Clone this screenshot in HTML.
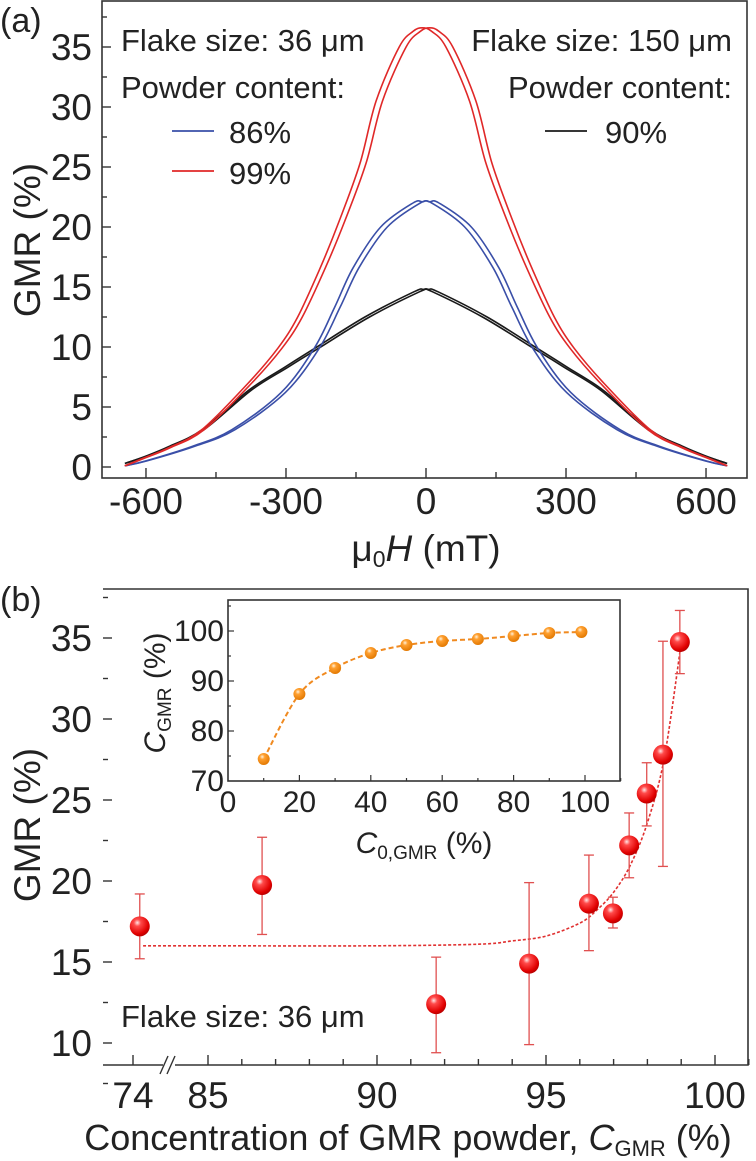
<!DOCTYPE html>
<html><head><meta charset="utf-8"><style>
html,body{margin:0;padding:0;background:#fff;}
svg{display:block;font-family:"Liberation Sans",Arial,sans-serif;}
</style></head><body>
<svg id="fig" width="756" height="1161" viewBox="0 0 756 1161" xmlns="http://www.w3.org/2000/svg">
<defs>
<radialGradient id="gRed" cx="0.38" cy="0.32" r="0.7">
<stop offset="0" stop-color="#ffe6e6"/><stop offset="0.25" stop-color="#ff4a4a"/><stop offset="0.8" stop-color="#e00000"/><stop offset="1" stop-color="#b80000"/></radialGradient>
<radialGradient id="gOr" cx="0.38" cy="0.32" r="0.7">
<stop offset="0" stop-color="#fff2dc"/><stop offset="0.3" stop-color="#ffa030"/><stop offset="1" stop-color="#e27800"/></radialGradient>
</defs>
<g id="pa"></g>
<g id="pb"></g>
<g id="pi"></g>
</svg>
<script>
// ---------- Panel (a) data ----------
const aTicksX = [-600, -300, 0, 300, 600];
const aTicksY = [0, 5, 10, 15, 20, 25, 30, 35];
const hHalf = [0, 20, 50, 100, 135, 180, 220, 270, 313, 377, 478, 550, 600, 645];
const gmrRed = [36.6, 36.3, 35.0, 30.5, 25.3, 20.5, 16.7, 12.5, 9.9, 7.0, 3.1, 1.6, 0.8, 0.1];
const hBlue = [0, 20, 90, 150, 190, 234, 306, 413, 500, 600, 645];
const gmrBlue = [22.1, 22.0, 20.0, 16.6, 13.3, 9.9, 6.2, 3.1, 1.7, 0.5, 0.1];
const hBlack = [0, 20, 126, 234, 300, 377, 478, 550, 600, 645];
const gmrBlack = [14.8, 14.6, 12.5, 9.9, 8.3, 6.4, 3.1, 1.7, 0.9, 0.3];
const hystShift = [8, 8, 6]; // mT, red, blue, black

// ---------- Panel (b) data ----------
const bTickVals = [74, 85, 90, 95, 100];
const bTickY = [10, 15, 20, 25, 30, 35];
const conc = [74.2, 86.6, 91.75, 94.5, 96.27, 96.98, 97.46, 97.98, 98.46, 98.96];
const gmrB = [17.2, 19.75, 12.4, 14.9, 18.6, 18.0, 22.2, 25.4, 27.8, 34.75];
const errLo = [15.2, 16.7, 9.4, 9.9, 15.7, 17.1, 20.2, 23.4, 20.9, 32.8];
const errHi = [19.2, 22.7, 15.3, 19.9, 21.6, 19.0, 24.2, 27.3, 34.8, 36.7];
const fitX = [74.3, 85, 90, 93, 94, 95, 96, 96.5, 97, 97.5, 98, 98.5, 99];
const fitY = [16, 16, 16, 16.1, 16.3, 16.6, 17.4, 18.2, 19.3, 21, 23.6, 27.6, 34.7];

// ---------- Inset data ----------
const inX = [10, 20, 30, 40, 50, 60, 70, 80, 90, 99];
const inY = [74.4, 87.4, 92.6, 95.6, 97.2, 98.0, 98.4, 99.0, 99.6, 99.8];
const inTicksX = [0, 20, 40, 60, 80, 100];
const inTicksY = [70, 80, 90, 100];

const NS = "http://www.w3.org/2000/svg";
function mk(parent, tag, attrs, text) {
  const e = document.createElementNS(NS, tag);
  for (const k in attrs) e.setAttribute(k, attrs[k]);
  if (text !== undefined) e.textContent = text;
  parent.appendChild(e);
  return e;
}
function smooth(P) {
  let d = 'M' + P[0][0].toFixed(1) + ',' + P[0][1].toFixed(1);
  for (let i = 0; i < P.length - 1; i++) {
    const p0 = P[i - 1] || P[i], p1 = P[i], p2 = P[i + 1], p3 = P[i + 2] || P[i + 1];
    const c1 = [p1[0] + (p2[0] - p0[0]) / 6, p1[1] + (p2[1] - p0[1]) / 6];
    const c2 = [p2[0] - (p3[0] - p1[0]) / 6, p2[1] - (p3[1] - p1[1]) / 6];
    d += 'C' + c1.map(n => n.toFixed(1)).join(',') + ' ' + c2.map(n => n.toFixed(1)).join(',') + ' ' + p2[0].toFixed(1) + ',' + p2[1].toFixed(1);
  }
  return d;
}
const AX = "#333";

// ===== Panel A =====
const pa = document.getElementById('pa');
const ax = h => 426 + h * 0.4667;
const ay = g => 467 - g * 12;
let e;
e = mk(pa, 'rect', {x: 102, y: 1, width: 645, height: 477, fill: 'none', stroke: AX, 'stroke-width': 1.6});


for (let v = -750; v <= 750; v += 150) {
  const x = ax(v); if (x < 103 || x > 746) continue;
  const major = v % 300 === 0;
  mk(pa, 'line', {x1: x, x2: x, y1: 478, y2: major ? 468 : 472, stroke: AX, 'stroke-width': 1.4});
}
aTicksX.forEach(v => {
  e = mk(pa, 'text', {x: ax(v), y: 514, 'font-size': 37, 'text-anchor': 'middle', fill: '#222'}, String(v));
  
  
});
for (let g = 0; g <= 37.5; g += 2.5) {
  const major = g % 5 === 0;
  mk(pa, 'line', {x1: 102, x2: major ? 111 : 107, y1: ay(g), y2: ay(g), stroke: AX, 'stroke-width': 1.4});
}
aTicksY.forEach(v => {
  e = mk(pa, 'text', {x: 92, y: ay(v) + 13, 'font-size': 37, 'text-anchor': 'end', fill: '#222'}, String(v));
  
  
});
e = mk(pa, 'text', {x: 0, y: 0, 'font-size': 37, 'text-anchor': 'middle', fill: '#222', transform: 'translate(40,240) rotate(-90)'}, 'GMR (%)');


e = mk(pa, 'text', {x: 426, y: 561, 'font-size': 37, 'text-anchor': 'middle', fill: '#222'});
e.innerHTML = 'μ<tspan font-size="23" dy="6">0</tspan><tspan dy="-6" font-style="italic">H</tspan> (mT)';


e = mk(pa, 'text', {x: 0, y: 32, 'font-size': 34, fill: '#222'}, '(a)');



function curve(hs, gs, shift, color, name) {
  [1, -1].forEach(sgn => {
    const pts = [];
    for (let i = hs.length - 1; i >= 0; i--) pts.push([-hs[i], gs[i]]);
    for (let i = 1; i < hs.length; i++) pts.push([hs[i], gs[i]]);
    const P = pts.map(p => [ax(p[0] + sgn * shift * (1 - Math.abs(p[0]) / 700)), ay(p[1])]);
    const el = mk(pa, 'path', {d: smooth(P), fill: 'none', stroke: color, 'stroke-width': 1.6, 'stroke-linejoin': 'round'});
    
    
  });
}
curve(hBlack, gmrBlack, hystShift[2], '#1a1a1a', 'curve-90pct-150um');
curve(hBlue, gmrBlue, hystShift[1], '#3a4fa8', 'curve-86pct');
curve(hHalf, gmrRed, hystShift[0], '#e02828', 'curve-99pct');

const leg = [
  ['Flake size: 36 μm', 121, 51, 'start'], ['Powder content:', 121, 98, 'start'],
  ['86%', 229, 143, 'start'], ['99%', 229, 184, 'start'],
  ['Flake size: 150 μm', 732, 51, 'end'], ['Powder content:', 732, 98, 'end'],
  ['90%', 605, 143, 'start']];
leg.forEach(l => {
  e = mk(pa, 'text', {x: l[1], y: l[2], 'font-size': 31, 'text-anchor': l[3], fill: '#222'}, l[0]);
  
  
});
[[172, 131, '#3a4fa8'], [172, 171, '#e02828'], [545, 131, '#1a1a1a']].forEach(s => {
  e = mk(pa, 'line', {x1: s[0], x2: s[0] + 42, y1: s[1], y2: s[1], stroke: s[2], 'stroke-width': 1.8});
  
  
});

// ===== Panel B =====
const pb = document.getElementById('pb');
const bx = v => v < 80 ? 133 + (v - 74) * 33.8 : 208 + (v - 85) * 33.8;
const by = g => 1043 - (g - 10) * 16.2;
e = mk(pb, 'path', {d: 'M103,589H748V1065H175M163,1065H103Z', fill: 'none', stroke: AX, 'stroke-width': 1.6});


mk(pb, 'line', {x1: 160, y1: 1074, x2: 168, y2: 1056, stroke: AX, 'stroke-width': 1.4});
mk(pb, 'line', {x1: 167, y1: 1074, x2: 175, y2: 1056, stroke: AX, 'stroke-width': 1.4});
for (let v = 85; v <= 101; v++) {
  const major = v % 5 === 0;
  mk(pb, 'line', {x1: bx(v), x2: bx(v), y1: 1065, y2: major ? 1055 : 1059, stroke: AX, 'stroke-width': 1.4});
}
mk(pb, 'line', {x1: bx(74), x2: bx(74), y1: 1065, y2: 1055, stroke: AX, 'stroke-width': 1.4});
bTickVals.forEach(v => {
  e = mk(pb, 'text', {x: bx(v), y: 1108, 'font-size': 37, 'text-anchor': 'middle', fill: '#222'}, String(v));
  
  
});
for (let g = 7.5; g <= 37.5; g += 2.5) {
  const major = g % 5 === 0;
  mk(pb, 'line', {x1: 103, x2: major ? 112 : 108, y1: by(g), y2: by(g), stroke: AX, 'stroke-width': 1.4});
}
bTickY.forEach(v => {
  e = mk(pb, 'text', {x: 92, y: by(v) + 13, 'font-size': 37, 'text-anchor': 'end', fill: '#222'}, String(v));
  
  
});
e = mk(pb, 'text', {x: 0, y: 0, 'font-size': 37, 'text-anchor': 'middle', fill: '#222', transform: 'translate(40,825) rotate(-90)'}, 'GMR (%)');


e = mk(pb, 'text', {x: 408, y: 1150, 'font-size': 36, 'text-anchor': 'middle', fill: '#222'});
e.innerHTML = 'Concentration of GMR powder, <tspan font-style="italic">C</tspan><tspan font-size="22" dy="6">GMR</tspan><tspan dy="-6"> (%)</tspan>';


e = mk(pb, 'text', {x: 0, y: 611, 'font-size': 34, fill: '#222'}, '(b)');


e = mk(pb, 'text', {x: 121, y: 1027, 'font-size': 31, fill: '#222'}, 'Flake size: 36 μm');



e = mk(pb, 'path', {d: smooth(fitX.map((v, i) => [bx(v), by(fitY[i])])), fill: 'none', stroke: '#e03030', 'stroke-width': 1.6, 'stroke-dasharray': '3,2'});


conc.forEach((v, i) => {
  const x = bx(v);
  const g = mk(pb, 'g', {});
  
  
  mk(g, 'line', {x1: x, x2: x, y1: by(errLo[i]), y2: by(errHi[i]), stroke: '#e05050', 'stroke-width': 1.3});
  mk(g, 'line', {x1: x - 5, x2: x + 5, y1: by(errLo[i]), y2: by(errLo[i]), stroke: '#e05050', 'stroke-width': 1.3});
  mk(g, 'line', {x1: x - 5, x2: x + 5, y1: by(errHi[i]), y2: by(errHi[i]), stroke: '#e05050', 'stroke-width': 1.3});
});
conc.forEach((v, i) => {
  e = mk(pb, 'circle', {cx: bx(v), cy: by(gmrB[i]), r: 10, fill: 'url(#gRed)'});
  
  
});

// ===== Inset =====
const pi = document.getElementById('pi');
const ix = v => 228 + v * 3.57;
const iy = v => 781 - (v - 70) * 5;
e = mk(pi, 'rect', {x: 228, y: 600, width: 392, height: 181, fill: '#fff', stroke: AX, 'stroke-width': 1.6});


for (let v = 10; v <= 110; v += 10) {
  const major = v % 20 === 0;
  mk(pi, 'line', {x1: ix(v), x2: ix(v), y1: 781, y2: major ? 775 : 778, stroke: AX, 'stroke-width': 1.2});
}
for (let v = 75; v <= 105; v += 5) {
  const major = v % 10 === 0;
  mk(pi, 'line', {x1: 228, x2: major ? 234 : 231, y1: iy(v), y2: iy(v), stroke: AX, 'stroke-width': 1.2});
}
inTicksX.forEach(v => {
  e = mk(pi, 'text', {x: ix(v), y: 812, 'font-size': 30, 'text-anchor': 'middle', fill: '#222'}, String(v));
  
  
});
inTicksY.forEach(v => {
  e = mk(pi, 'text', {x: 224, y: iy(v) + 10, 'font-size': 30, 'text-anchor': 'end', fill: '#222'}, String(v));
  
  
});
e = mk(pi, 'text', {x: 0, y: 0, 'font-size': 30, 'text-anchor': 'middle', fill: '#222', transform: 'translate(165,693) rotate(-90)'});
e.innerHTML = '<tspan font-style="italic">C</tspan><tspan font-size="19" dy="6">GMR</tspan><tspan dy="-6"> (%)</tspan>';


e = mk(pi, 'text', {x: 424, y: 853, 'font-size': 30, 'text-anchor': 'middle', fill: '#222'});
e.innerHTML = '<tspan font-style="italic">C</tspan><tspan font-size="19" dy="6">0,GMR</tspan><tspan dy="-6"> (%)</tspan>';


e = mk(pi, 'path', {d: smooth(inX.map((v, i) => [ix(v), iy(inY[i])])), fill: 'none', stroke: '#f08a20', 'stroke-width': 2, 'stroke-dasharray': '5,3'});


inX.forEach((v, i) => {
  e = mk(pi, 'circle', {cx: ix(v), cy: iy(inY[i]), r: 6, fill: 'url(#gOr)'});
  
  
});
</script>
</body></html>
